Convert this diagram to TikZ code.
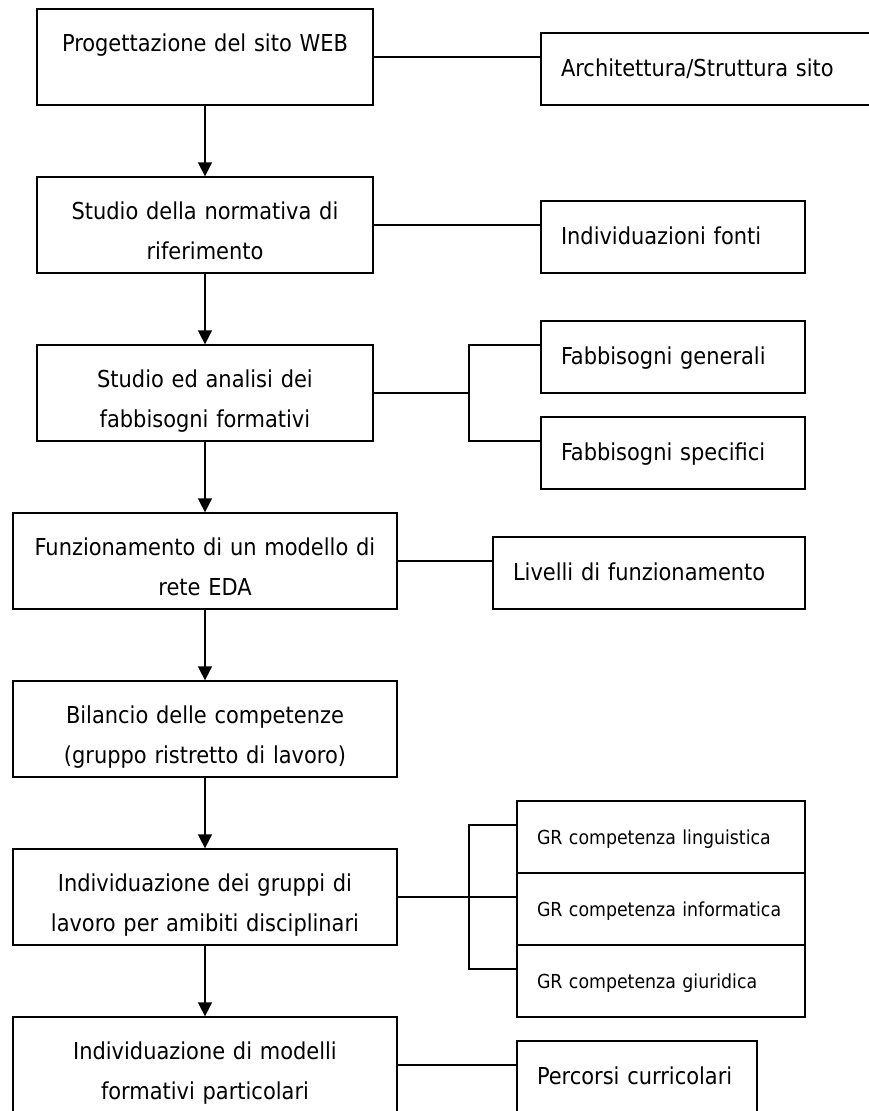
\documentclass[tikz,border=0pt]{standalone}
\usepackage{fontspec}
\setmainfont{DejaVu Sans Condensed}
\usetikzlibrary{arrows.meta}
\newcommand{\bigfnt}{\fontsize{23.3pt}{40pt}\selectfont}
\newcommand{\smallfnt}{\fontsize{19.3pt}{21pt}\selectfont}
\tikzstyle{mainbox} = [draw,line width=1.3pt,inner sep=0pt,minimum height=96pt,text height=16pt,text depth=27pt,align=center,font=\bigfnt]
\tikzstyle{sidebox} = [draw,line width=1.3pt,inner xsep=20pt,inner ysep=0pt,minimum height=72pt,text height=16pt,text depth=2pt,align=left,font=\bigfnt]
\tikzstyle{arrow}   = [line width=1.3pt,-{Triangle[length=14pt,width=14pt]}]
\tikzstyle{link}    = [line width=1.3pt]

\begin{document}
\begin{tikzpicture}[x=1pt,y=-1pt]
          \fill[white](0,0)rectangle(869,1111);
          \useasboundingbox(0,0)rectangle(869,1111);
          \node[mainbox,text width=336pt](b1)at(205,57){Progettazione del sito WEB};
          \node[mainbox,text width=336pt](b2)at(205,225){Studio della normativa di\\riferimento};
          \node[mainbox,text width=336pt](b3)at(205,393){Studio ed analisi dei\\fabbisogni formativi};
          \node[mainbox,text width=384pt](b4)at(205,561){Funzionamento di un modello di\\rete EDA};
          \node[mainbox,text width=384pt](b5)at(205,729){Bilancio delle competenze\\(gruppo ristretto di lavoro)};
          \node[mainbox,text width=384pt](b6)at(205,897){Individuazione dei gruppi di\\lavoro per amibiti disciplinari};
          \node[mainbox,text width=384pt](b7)at(205,1065){Individuazione di modelli\\formativi particolari};
          \node[sidebox,text width=292pt](r1)at(707,69){Architettura/Struttura sito};
          \node[sidebox,text width=224pt](r2)at(673,237){Individuazioni fonti};
          \node[sidebox,text width=224pt](f1)at(673,357){Fabbisogni generali};
          \node[sidebox,text width=224pt](f2)at(673,453){Fabbisogni specifici};
          \node[sidebox,text width=272pt](r4)at(649,573){Livelli di funzionamento};
          \node[sidebox,text width=248pt,font=\smallfnt](g1)at(661,837){GR competenza linguistica};
          \node[sidebox,text width=248pt,font=\smallfnt](g2)at(661,909){GR competenza informatica};
          \node[sidebox,text width=248pt,font=\smallfnt](g3)at(661,981){GR competenza giuridica};
          \node[sidebox,text width=200pt](r7)at(637,1077){Percorsi curricolari};
          \coordinate(j3)at(469,393);
          \coordinate(j6)at(469,897);
          \foreach \a/\b in {b1/b2,b2/b3,b3/b4,b4/b5,b5/b6,b6/b7}
            \draw[arrow](\a)--(\b);
          \draw[link](b1.east)--(b1.east-|r1.west);
          \draw[link](b2.east)--(b2.east-|r2.west);
          \draw[link](b3.east)--(j3);
          \draw[link]([yshift=12pt]f1.west)-|(j3)|-([yshift=12pt]f2.west);
          \draw[link](b4.east)--(b4.east-|r4.west);
          \draw[link](b6.east)--(b6.east-|g2.west);
          \draw[link]([yshift=12pt]g1.west)-|(j6)|-([yshift=12pt]g3.west);
          \draw[link](b7.east)--(b7.east-|r7.west);
      \end{tikzpicture}
\end{document}
